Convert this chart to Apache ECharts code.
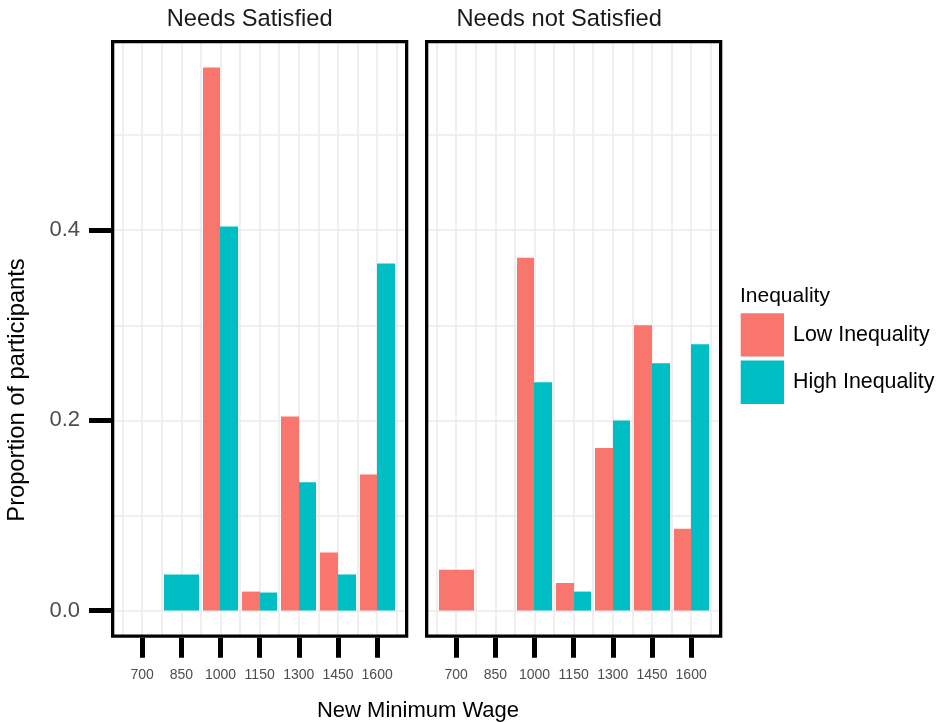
<!DOCTYPE html>
<html>
<head>
<meta charset="utf-8">
<title>New Minimum Wage</title>
<script src="https://cdn.jsdelivr.net/npm/echarts@6/dist/echarts.min.js"></script>
<style>
html, body { margin: 0; padding: 0; background: #ffffff; }
#chart { width: 940px; height: 722px; }
</style>
</head>
<body>
<div id="chart"></div>
<script>
// ---- data -------------------------------------------------------------
const wages = ['700', '850', '1000', '1150', '1300', '1450', '1600'];
const panels = ['Needs Satisfied', 'Needs not Satisfied'];
const groups = ['Low Inequality', 'High Inequality'];
const groupColors = ['#F8766D', '#00BFC4'];

// proportion of participants choosing each wage (null = nobody chose it)
const satisfiedLow     = [null, null, 0.571, 0.020, 0.204, 0.061, 0.143];
const satisfiedHigh    = [null, 0.038, 0.404, 0.019, 0.135, 0.038, 0.365];
const notSatisfiedLow  = [0.043, null, 0.371, 0.029, 0.171, 0.300, 0.086];
const notSatisfiedHigh = [null, null, 0.240, 0.020, 0.200, 0.260, 0.280];

const yTickValues = [0, 0.2, 0.4];
const yTickLabels = ['0.0', '0.2', '0.4'];
const yGridValues = [0, 0.1, 0.2, 0.3, 0.4, 0.5];

// ---- scales -----------------------------------------------------------
// x runs in category units (0 = first wage), padded like ggplot's expansion
const X_MIN = -0.795, X_MAX = 6.795, X_STEP = 0.005;
const Y_MIN = -0.0285, Y_MAX = 0.6, Y_STEP = 0.0005;

const FONT = '"Liberation Sans", Arial, Helvetica, sans-serif';

// fine-grained helper category axes carry ticks, labels and grid lines
const NX = Math.round((X_MAX - X_MIN) / X_STEP) + 1;
const NY = Math.round((Y_MAX - Y_MIN) / Y_STEP) + 1;
const xIdx = v => Math.round((v - X_MIN) / X_STEP);
const yIdx = v => Math.round((v - Y_MIN) / Y_STEP);

const xCats = Array.from({ length: NX }, (_, k) => String(k));
const yCats = Array.from({ length: NY }, (_, k) => String(k));

const xLabelAt = {};
wages.forEach((w, i) => { xLabelAt[xIdx(i)] = w; });
const xGridSet = new Set();
for (let j = 0; j <= 2 * (wages.length - 1) + 2; j++) xGridSet.add(xIdx(-0.5 + 0.5 * j));

const yLabelAt = {};
yTickValues.forEach((v, i) => { yLabelAt[yIdx(v)] = yTickLabels[i]; });
const yGridSet = new Set(yGridValues.map(yIdx));

// ---- layout -----------------------------------------------------------
const GRID_TOP = 40, GRID_H = 597.7, GRID_W = 297.3;
const gridLefts = [111, 425];
const BORDER = 3.3;

// ---- position_dodge: a lone bar fills the whole slot ------------------
function dodge(low, high) {
  const lowItems = [], highItems = [];
  low.forEach((lv, i) => {
    const hv = high[i];
    if (lv != null && hv != null) {
      lowItems.push([i, lv, -0.225, 0.45]);
      highItems.push([i, hv, 0.225, 0.45]);
    } else if (lv != null) {
      lowItems.push([i, lv, 0, 0.9]);
    } else if (hv != null) {
      highItems.push([i, hv, 0, 0.9]);
    }
  });
  return [lowItems, highItems];
}

function renderBar(params, api) {
  const c = api.value(0), v = api.value(1), off = api.value(2), w = api.value(3);
  const a = api.coord([c + off - w / 2, v]);
  const b = api.coord([c + off + w / 2, 0]);
  // snap the side edges so neighbouring dodged bars meet without a seam
  const x0 = Math.round(a[0]), x1 = Math.round(b[0]);
  return {
    type: 'rect',
    shape: { x: x0, y: a[1], width: x1 - x0, height: b[1] - a[1] },
    style: { fill: api.visual('color') }
  };
}

const panelData = [dodge(satisfiedLow, satisfiedHigh), dodge(notSatisfiedLow, notSatisfiedHigh)];

const grids = [], xAxes = [], yAxes = [], series = [], graphics = [];

panels.forEach((name, p) => {
  grids.push({ left: gridLefts[p], top: GRID_TOP, width: GRID_W, height: GRID_H, containLabel: false });

  // data axes (hidden)
  xAxes.push({ type: 'value', gridIndex: p, min: X_MIN, max: X_MAX, show: false, position: 'top' });
  yAxes.push({ type: 'value', gridIndex: p, min: Y_MIN, max: Y_MAX, show: false, position: 'right' });

  // tick / label / grid-line axes
  xAxes.push({
    type: 'category', gridIndex: p, position: 'bottom', boundaryGap: false, data: xCats,
    axisLine: { show: false, onZero: false },
    axisTick: {
      show: true, interval: i => xLabelAt[i] !== undefined, length: 20,
      lineStyle: { color: '#000000', width: 5 }
    },
    axisLabel: {
      show: true, interval: i => xLabelAt[i] !== undefined,
      formatter: v => xLabelAt[+v] || '',
      margin: 30, fontSize: 14, color: '#4D4D4D', fontFamily: FONT
    },
    splitLine: { show: true, interval: i => xGridSet.has(i), lineStyle: { color: '#EBEBEB', width: 1.6 } }
  });
  yAxes.push({
    type: 'category', gridIndex: p, position: 'left', boundaryGap: false, data: yCats,
    axisLine: { show: false, onZero: false },
    axisTick: {
      show: p === 0, interval: i => yLabelAt[i] !== undefined, length: 22,
      lineStyle: { color: '#000000', width: 5 }
    },
    axisLabel: {
      show: p === 0, interval: i => yLabelAt[i] !== undefined,
      formatter: v => yLabelAt[+v] || '',
      margin: 31, fontSize: 22, color: '#4D4D4D', fontFamily: FONT
    },
    splitLine: { show: true, interval: i => yGridSet.has(i), lineStyle: { color: '#EBEBEB', width: 1.6 } }
  });

  groups.forEach((g, gi) => {
    series.push({
      type: 'custom', name: g, coordinateSystem: 'cartesian2d',
      xAxisIndex: 2 * p, yAxisIndex: 2 * p,
      itemStyle: { color: groupColors[gi] },
      encode: { x: 0, y: 1 },
      renderItem: renderBar,
      data: panelData[p][gi],
      silent: true
    });
  });

  // panel frame
  graphics.push({
    type: 'rect', z: 100, silent: true,
    shape: {
      x: gridLefts[p] + BORDER / 2, y: GRID_TOP + BORDER / 2,
      width: GRID_W - BORDER, height: GRID_H - BORDER
    },
    style: { fill: null, stroke: '#000000', lineWidth: BORDER }
  });
});

// facet strip titles
const stripCenters = [249.7, 559.2];
panels.forEach((name, p) => {
  graphics.push({
    type: 'text', x: stripCenters[p], y: 19, silent: true,
    style: { text: name, fontSize: 23.7, fontFamily: FONT, fill: '#1A1A1A', align: 'center', verticalAlign: 'middle' }
  });
});

// axis titles
graphics.push({
  type: 'text', x: 418, y: 711, silent: true,
  style: { text: 'New Minimum Wage', fontSize: 22, fontFamily: FONT, fill: '#000000', align: 'center', verticalAlign: 'middle' }
});
graphics.push({
  type: 'text', x: 17, y: 390, rotation: Math.PI / 2, silent: true,
  style: { text: 'Proportion of participants', fontSize: 23.7, fontFamily: FONT, fill: '#000000', align: 'center', verticalAlign: 'middle' }
});

// legend title
graphics.push({
  type: 'text', x: 740, y: 296, silent: true,
  style: { text: 'Inequality', fontSize: 21, fontFamily: FONT, fill: '#000000', align: 'left', verticalAlign: 'middle' }
});

const chart = echarts.init(document.getElementById('chart'), null, { renderer: 'canvas' });
chart.setOption({
  animation: false,
  backgroundColor: '#ffffff',
  grid: grids,
  xAxis: xAxes,
  yAxis: yAxes,
  series: series,
  legend: {
    data: groups.map((g, gi) => ({ name: g, itemStyle: { color: groupColors[gi] } })),
    orient: 'vertical', left: 740.7, top: 313.3, padding: 0,
    itemWidth: 43.3, itemHeight: 43.3, itemGap: 4, icon: 'rect', selectedMode: false,
    textStyle: { fontSize: 21.4, color: '#000000', fontFamily: FONT, padding: [0, 0, 0, 4] }
  },
  graphic: graphics
});
</script>
</body>
</html>
